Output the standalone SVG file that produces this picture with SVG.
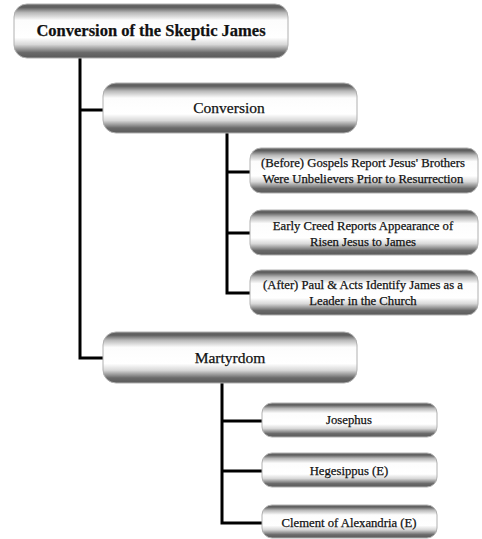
<svg xmlns="http://www.w3.org/2000/svg" width="482" height="539" viewBox="0 0 482 539">
<style>
.box{fill:url(#g);stroke:#b0b0b0;stroke-width:1}
.t{font-family:"Liberation Serif","Times New Roman",serif;fill:#111;stroke:#111;stroke-width:0.25;text-anchor:middle}
.c{stroke:#000;stroke-width:3;fill:none}
</style>
<defs>
<linearGradient id="g" x1="0" y1="0" x2="0" y2="1">
<stop offset="0" stop-color="#6a6a6a"/>
<stop offset="0.06" stop-color="#5e5e5e"/>
<stop offset="0.16" stop-color="#b8b8b8"/>
<stop offset="0.3" stop-color="#fcfcfc"/>
<stop offset="0.62" stop-color="#ffffff"/>
<stop offset="0.75" stop-color="#d8d8d8"/>
<stop offset="0.9" stop-color="#6a6a6a"/>
<stop offset="1" stop-color="#5a5a5a"/>
</linearGradient>
</defs>
<g id="connectors">
<path class="c" d="M80,57 V358 H103 M80,110 H103"/>
<path class="c" d="M227,133 V293 H250 M227,172 H250 M227,233 H250"/>
<path class="c" d="M222,383 V523 H262 M222,421 H262 M222,471 H262"/>
</g>
<g id="root">
<rect class="box" x="14" y="4" width="274" height="54" rx="13"/>
<text class="t" x="151" y="36" font-size="16.5" font-weight="bold">Conversion of the Skeptic James</text>
</g>
<g id="conversion">
<rect class="box" x="103" y="83" width="254" height="50" rx="13"/>
<text class="t" x="229" y="113" font-size="15.5">Conversion</text>
</g>
<g id="before">
<rect class="box" x="250" y="148" width="228" height="45" rx="11"/>
<text class="t" x="363" y="167" font-size="12.7">(Before) Gospels Report Jesus' Brothers</text>
<text class="t" x="363" y="183" font-size="12.7">Were Unbelievers Prior to Resurrection</text>
</g>
<g id="creed">
<rect class="box" x="250" y="210" width="228" height="45" rx="11"/>
<text class="t" x="363" y="230" font-size="12.7">Early Creed Reports Appearance of</text>
<text class="t" x="363" y="246" font-size="12.7">Risen Jesus to James</text>
</g>
<g id="after">
<rect class="box" x="250" y="270" width="228" height="45" rx="11"/>
<text class="t" x="363" y="289" font-size="12.7">(After) Paul &amp; Acts Identify James as a</text>
<text class="t" x="363" y="305" font-size="12.7">Leader in the Church</text>
</g>
<g id="martyrdom">
<rect class="box" x="103" y="332" width="254" height="51" rx="13"/>
<text class="t" x="230" y="363" font-size="15.5">Martyrdom</text>
</g>
<g id="josephus">
<rect class="box" x="262" y="403" width="175" height="34" rx="10"/>
<text class="t" x="349" y="424" font-size="12.7">Josephus</text>
</g>
<g id="hegesippus">
<rect class="box" x="262" y="453" width="175" height="34" rx="10"/>
<text class="t" x="349" y="475" font-size="12.7">Hegesippus (E)</text>
</g>
<g id="clement">
<rect class="box" x="262" y="505" width="175" height="33" rx="10"/>
<text class="t" x="349" y="527" font-size="12.7">Clement of Alexandria (E)</text>
</g>
</svg>
